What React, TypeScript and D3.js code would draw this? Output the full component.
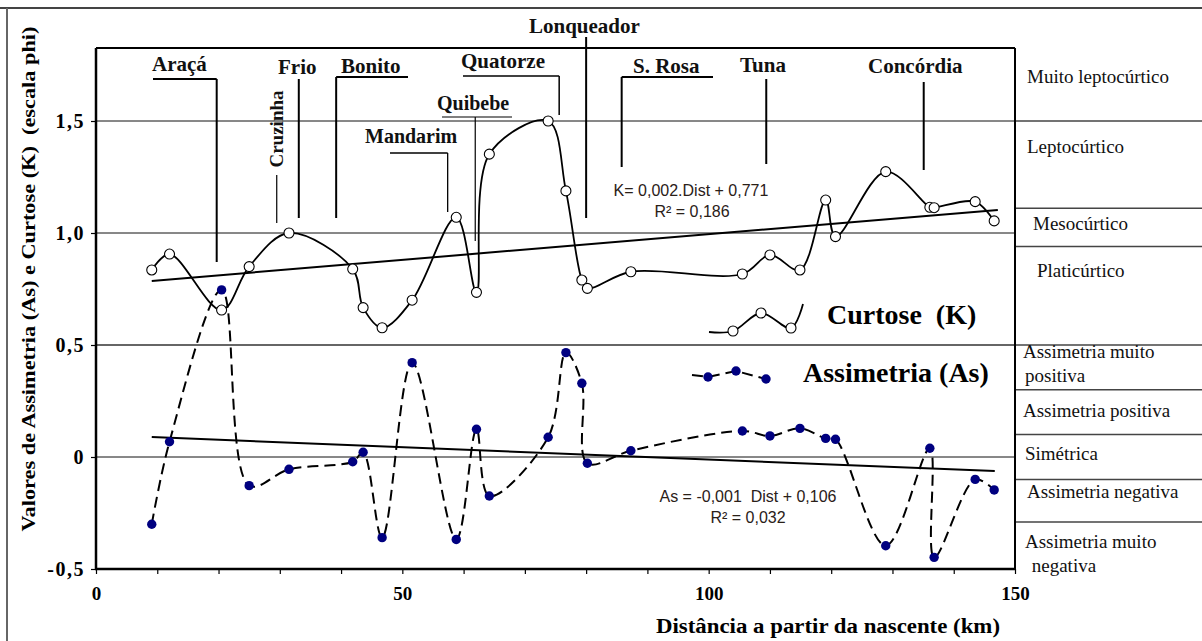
import React, { useEffect, useRef } from "react";
import * as d3 from "d3";

// sampling points: distance from the source (km)
const distKm = [
  9.1, 12.0, 20.5, 25.0, 31.5, 41.9, 43.6, 46.7, 51.6, 58.8, 62.1, 64.2, 73.8, 76.7,
  79.3, 80.2, 87.3, 105.5, 110.0, 114.9, 119.1, 120.7, 128.9, 136.1, 136.8, 143.5, 146.6,
];
// Curtose (K)
const curtose = [
  0.835, 0.906, 0.656, 0.85, 1.0, 0.839, 0.667, 0.577, 0.7, 1.07, 0.735, 1.352, 1.5, 1.188,
  0.79, 0.753, 0.827, 0.817, 0.902, 0.835, 1.147, 0.984, 1.274, 1.115, 1.113, 1.14, 1.054,
];
// Assimetria (As)
const assimetria = [
  -0.3, 0.068, 0.746, -0.128, -0.055, -0.021, 0.021, -0.36, 0.421, -0.368, 0.124, -0.174, 0.088,
  0.466, 0.329, -0.028, 0.028, 0.116, 0.094, 0.128, 0.083, 0.079, -0.396, 0.039, -0.448, -0.1, -0.147,
];

// linear trend lines (end points)
const trendKmK = [9.1, 147.2];
const trendK = [0.786, 1.103];
const trendKmAs = [9.1, 146.7];
const trendAs = [0.089, -0.0625];

// tributaries along the river
const tributaries = ["Araçá", "Cruzinha", "Frio", "Bonito", "Mandarim", "Quibebe", "Quatorze", "Lonqueador", "S. Rosa", "Tuna", "Concórdia"];
const tributaryKm = [19.7, 29.5, 33.1, 39.2, 57.4, 61.9, 75.6, 80.0, 85.8, 109.4, 135.1];

// classes on the right
const classBreaks = [1.5, 1.11, 0.94, 0.5, 0.3, 0.1, -0.1, -0.29];
const classLabels = [
  ["Muito leptocúrtico"],
  ["Leptocúrtico"],
  ["Mesocúrtico"],
  ["Platicúrtico"],
  ["Assimetria muito", "positiva"],
  ["Assimetria positiva"],
  ["Simétrica"],
  ["Assimetria negativa"],
  ["Assimetria muito", " negativa"],
];

const yTicks = [-0.5, 0, 0.5, 1, 1.5];
const xTicks = d3.range(0, 151, 10);

// label placement (px) for the tributary annotations
const labelLayout = [
  { tx: 152, ty: 71, hy: 79, h1: 153, y1: 79, y2: 262, w: 2 },
  { tx: 283, ty: 129, rot: true, y1: 175, y2: 223, w: 1.2 },
  { tx: 278, ty: 74, y1: 79, y2: 218, w: 2 },
  { tx: 341, ty: 73, hy: 77, h2: 408, y1: 77, y2: 218, w: 2 },
  { tx: 365, ty: 143, hy: 153, h1: 390, y1: 153, y2: 212, w: 1.3 },
  { tx: 437, ty: 110, hy: 117, h1: 442, h2: 512, y1: 117, y2: 241, w: 1.2 },
  { tx: 461, ty: 68, hy: 76, h1: 463, y1: 76, y2: 115, w: 1.5 },
  { tx: 529, ty: 33, y1: 37, y2: 218, w: 2 },
  { tx: 633, ty: 73, hy: 77, h2: 713, y1: 77, y2: 167, w: 2 },
  { tx: 740, ty: 72, y1: 79, y2: 164, w: 2 },
  { tx: 868, ty: 73, y1: 82, y2: 170, w: 2 },
];

const classLayout = [
  { x: 1027, y: 83 }, { x: 1027, y: 153 }, { x: 1033, y: 230 }, { x: 1037, y: 277 },
  { x: 1023, y: 358 }, { x: 1023, y: 417 }, { x: 1025, y: 460 }, { x: 1027, y: 498 }, { x: 1025, y: 548 },
];

// legend sample shapes (relative)
const legendKShape = [[0, 0], [24, 1], [52, 19], [82, 4], [94, 28]];
const legendAsShape = [[0, 0], [16, 2], [44, -4], [74, 4], [81, 2]];

const W = 1202;
const H = 641;
const serif = "Liberation Serif, Times New Roman, serif";
const sans = "Liberation Sans, Arial, sans-serif";

const App = () => {
  const svgRef = useRef(null);

  useEffect(() => {
    const svg = d3.select(svgRef.current);
    svg.selectAll("*").remove();

    const x = d3.scaleLinear().domain([0, 150]).range([96, 1015]);
    const y = d3.scaleLinear().domain([-0.5, 1.5]).range([569, 121]);
    const top = 48;

    // outer figure frame
    svg.append("line").attr("x1", 0).attr("x2", W).attr("y1", 8).attr("y2", 8).attr("stroke", "#444").attr("stroke-width", 2);
    svg.append("line").attr("x1", 7).attr("x2", 7).attr("y1", 8).attr("y2", H).attr("stroke", "#666").attr("stroke-width", 2);

    // gridlines
    [0, 1, 1.5].forEach((v) => {
      svg.append("line").attr("x1", x(0)).attr("x2", x(150)).attr("y1", y(v)).attr("y2", y(v)).attr("stroke", "#111").attr("stroke-width", 1);
    });
    svg.append("line").attr("x1", x(0)).attr("x2", x(150)).attr("y1", y(0.5)).attr("y2", y(0.5)).attr("stroke", "#666").attr("stroke-width", 2);

    // class boxes on the right
    classBreaks.forEach((v) => {
      svg.append("line").attr("x1", x(150)).attr("x2", W).attr("y1", y(v)).attr("y2", y(v)).attr("stroke", "#444").attr("stroke-width", 1.5);
    });
    classLabels.forEach((lines, i) => {
      const t = svg.append("text")
        .attr("x", classLayout[i].x)
        .attr("y", classLayout[i].y)
        .attr("font-family", serif)
        .attr("font-size", 19)
        .style("white-space", "pre")
        .attr("fill", "#111");
      lines.forEach((l, j) => {
        t.append("tspan").attr("x", classLayout[i].x + (j ? 2 : 0)).attr("dy", j ? 24 : 0).text(l);
      });
    });

    // trend lines
    const line = d3.line().x((d) => x(d[0])).y((d) => y(d[1]));
    svg.append("path").datum(trendKmK.map((k, i) => [k, trendK[i]])).attr("d", line).attr("fill", "none").attr("stroke", "#000").attr("stroke-width", 2);
    svg.append("path").datum(trendKmAs.map((k, i) => [k, trendAs[i]])).attr("d", line).attr("fill", "none").attr("stroke", "#000").attr("stroke-width", 2);

    // series curves
    const smooth = d3.line().x((d) => x(d[0])).y((d) => y(d[1])).curve(d3.curveCatmullRom.alpha(0.5));
    const asPts = distKm.map((k, i) => [k, assimetria[i]]);
    const kPts = distKm.map((k, i) => [k, curtose[i]]);

    svg.append("path").datum(asPts).attr("d", smooth).attr("fill", "none").attr("stroke", "#000").attr("stroke-width", 2).attr("stroke-dasharray", "11,6");
    svg.append("path").datum(kPts).attr("d", smooth).attr("fill", "none").attr("stroke", "#000").attr("stroke-width", 1.8);

    svg.selectAll("circle.as").data(asPts).join("circle").attr("class", "as")
      .attr("cx", (d) => x(d[0])).attr("cy", (d) => y(d[1])).attr("r", 4.7).attr("fill", "#000080");
    svg.selectAll("circle.k").data(kPts).join("circle").attr("class", "k")
      .attr("cx", (d) => x(d[0])).attr("cy", (d) => y(d[1])).attr("r", 5).attr("fill", "#fff").attr("stroke", "#000").attr("stroke-width", 1.1);

    // axes
    const xAxis = svg.append("g").attr("transform", `translate(0,${y(-0.5)})`)
      .call(d3.axisBottom(x).tickValues(xTicks).tickSize(5).tickPadding(14).tickFormat((d) => (d % 50 === 0 ? String(d) : "")));
    xAxis.attr("font-family", serif).attr("font-size", 19).attr("font-weight", "bold");
    xAxis.select(".domain").remove();
    xAxis.selectAll("line").attr("stroke", "#000").attr("stroke-width", 1.2);
    xAxis.selectAll("text").attr("fill", "#000").attr("dy", "0.62em");

    const yAxis = svg.append("g").attr("transform", `translate(${x(0)},0)`)
      .call(d3.axisLeft(y).tickValues(yTicks).tickSize(5).tickPadding(6).tickFormat((d) => (d === 0 ? "0" : d3.format(".1f")(d).replace(".", ",").replace("−", "-"))));
    yAxis.attr("font-family", serif).attr("font-size", 20).attr("font-weight", "bold").attr("letter-spacing", 1.5);
    yAxis.select(".domain").remove();
    yAxis.selectAll("line").attr("stroke", "#000").attr("stroke-width", 1.2);
    yAxis.selectAll("text").attr("fill", "#000");

    // plot frame
    svg.append("line").attr("x1", x(0)).attr("x2", x(150)).attr("y1", top).attr("y2", top).attr("stroke", "#000").attr("stroke-width", 2);
    svg.append("line").attr("x1", x(0)).attr("x2", x(0)).attr("y1", top).attr("y2", y(-0.5)).attr("stroke", "#000").attr("stroke-width", 2.5);
    svg.append("line").attr("x1", x(150)).attr("x2", x(150)).attr("y1", top).attr("y2", y(-0.5)).attr("stroke", "#000").attr("stroke-width", 2);
    svg.append("line").attr("x1", x(0) - 1).attr("x2", x(150) + 1).attr("y1", y(-0.5)).attr("y2", y(-0.5)).attr("stroke", "#000").attr("stroke-width", 2.5);

    // tributary labels
    tributaries.forEach((name, i) => {
      const L = labelLayout[i];
      const lx = x(tributaryKm[i]);
      if (L.rot) {
        svg.append("text")
          .attr("transform", `translate(${L.tx},${L.ty}) rotate(-90)`)
          .attr("text-anchor", "middle")
          .attr("font-family", serif).attr("font-size", 19).attr("font-weight", "bold")
          .attr("fill", "#111").text(name);
      } else {
        svg.append("text").attr("x", L.tx).attr("y", L.ty)
          .attr("font-family", serif).attr("font-size", i === 5 || i === 4 ? 20 : 21).attr("font-weight", "bold")
          .attr("fill", "#111").text(name);
      }
      if (L.hy !== undefined) {
        const h1 = L.h1 !== undefined ? L.h1 : lx;
        const h2 = L.h2 !== undefined ? L.h2 : lx;
        svg.append("line").attr("x1", h1).attr("x2", h2).attr("y1", L.hy).attr("y2", L.hy).attr("stroke", "#000").attr("stroke-width", L.w);
      }
      svg.append("line").attr("x1", lx).attr("x2", lx).attr("y1", L.y1).attr("y2", L.y2).attr("stroke", "#000").attr("stroke-width", L.w);
    });

    // regression equations
    const eq = (tx, ty, txt) =>
      svg.append("text").attr("x", tx).attr("y", ty).attr("text-anchor", "middle")
        .attr("font-family", sans).attr("font-size", 16).attr("fill", "#2a2018").style("white-space", "pre").text(txt);
    eq(691, 196, "K= 0,002.Dist + 0,771");
    eq(692, 217, "R² = 0,186");
    eq(748, 502, "As = -0,001  Dist + 0,106");
    eq(748, 523, "R² = 0,032");

    // legend
    const lk = legendKShape.map((p) => [709 + p[0], 332 - p[1]]);
    svg.append("path").attr("d", d3.line().curve(d3.curveCatmullRom.alpha(0.5))(lk)).attr("fill", "none").attr("stroke", "#000").attr("stroke-width", 1.8);
    lk.slice(1, 4).forEach((p) => {
      svg.append("circle").attr("cx", p[0]).attr("cy", p[1]).attr("r", 5).attr("fill", "#fff").attr("stroke", "#000").attr("stroke-width", 1.1);
    });
    svg.append("text").attr("x", 827).attr("y", 324).attr("font-family", serif).attr("font-size", 28).attr("font-weight", "bold").style("white-space", "pre").text("Curtose  (K)");

    const la = legendAsShape.map((p) => [692 + p[0], 375 + p[1]]);
    svg.append("path").attr("d", d3.line()(la)).attr("fill", "none").attr("stroke", "#000").attr("stroke-width", 2).attr("stroke-dasharray", "11,6");
    la.slice(1, 4).forEach((p) => {
      svg.append("circle").attr("cx", p[0]).attr("cy", p[1]).attr("r", 4.7).attr("fill", "#000080");
    });
    svg.append("text").attr("x", 803).attr("y", 382).attr("font-family", serif).attr("font-size", 28).attr("font-weight", "bold").text("Assimetria (As)");

    // axis titles
    svg.append("text").attr("x", 828).attr("y", 633).attr("text-anchor", "middle")
      .attr("font-family", serif).attr("font-size", 20).attr("font-weight", "bold")
      .attr("textLength", 344).attr("lengthAdjust", "spacingAndGlyphs")
      .text("Distância a partir da nascente (km)");
    svg.append("text").attr("transform", "translate(35,279) rotate(-90)").attr("text-anchor", "middle")
      .attr("font-family", serif).attr("font-size", 19).attr("font-weight", "bold").style("white-space", "pre")
      .attr("textLength", 505).attr("lengthAdjust", "spacingAndGlyphs")
      .text("Valores de Assimetria (As) e Curtose (K)  (escala phi)");
  }, []);

  return (
    <svg
      ref={svgRef}
      width={W}
      height={H}
      style={{ position: "absolute", left: 0, top: 0, background: "#fff" }}
    ></svg>
  );
};

export default App;
